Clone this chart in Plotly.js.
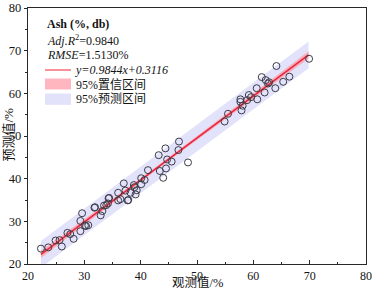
<!DOCTYPE html>
<html><head><meta charset="utf-8">
<script src="https://cdn.plot.ly/plotly-3.0.1.min.js"></script>
<style>html,body{margin:0;padding:0;background:#fff}#chart{width:373px;height:290px}</style>
</head><body><div id="chart"></div>
<script>
// Observed vs predicted ash (%, db)
const obsX = [22.3,23.6,24.9,25.6,26.0,27.0,27.5,28.1,29.3,29.3,29.6,30.1,30.3,30.7,31.8,31.9,32.9,33.2,33.5,33.9,34.2,34.3,34.4,36.0,36.0,36.4,37.0,37.3,37.7,37.8,38.2,38.8,39.1,39.3,38.9,40.1,40.1,40.7,41.3,43.2,43.4,44.0,44.4,44.5,44.7,45.5,46.7,46.8,48.4,54.9,55.5,57.7,57.7,57.9,58.1,58.9,59.2,59.6,60.6,60.7,61.5,62.0,62.2,62.6,62.8,63.9,64.1,65.3,66.4,69.9];
const predY = [23.6,23.9,25.5,25.6,24.1,27.3,27.0,25.9,27.7,30.1,31.9,29.0,28.9,29.1,33.2,33.3,31.4,32.4,33.7,33.8,34.2,35.4,35.5,34.9,36.7,35.2,38.9,37.2,34.9,35.0,36.7,38.5,36.3,37.3,38.0,40.1,38.7,39.7,42.0,45.5,41.8,40.2,47.1,42.4,44.5,44.0,46.7,48.7,43.8,53.4,55.2,58.6,58.0,56.0,57.1,58.4,59.6,59.1,61.2,58.6,63.8,60.2,63.1,62.3,62.6,61.2,66.4,62.7,63.9,68.1];
// fitted line and bands
const bandX  = [22.3, 28, 34, 40, 46, 52, 58, 64, 69.8];
const fitY   = [22.26, 27.88, 33.78, 39.69, 45.59, 51.50, 57.41, 63.31, 69.02];
const ciLow  = [21.41, 27.23, 33.28, 39.27, 45.19, 51.05, 56.86, 62.61, 68.17];
const ciHigh = [23.11, 28.53, 34.28, 40.11, 45.99, 51.95, 57.96, 64.01, 69.87];
const piLow  = [19.14, 24.79, 30.71, 36.63, 42.53, 48.44, 54.34, 60.22, 65.90];
const piHigh = [25.38, 30.97, 36.85, 42.75, 48.65, 54.56, 60.48, 66.40, 72.14];
const tickVals = [20,30,40,50,60,70,80];
const tickText = ['20','30','40','50','60','70','80'];

const FONT = 'Liberation Serif, Noto Sans CJK SC, serif';
const TXT = 'rgb(20,20,20)';
const PI_COL = 'rgb(226,226,251)';
const CI_COL = 'rgb(248,172,184)';
const LINE_COL = 'rgb(232,35,62)';

const rev = a => a.slice().reverse();
const traces = [
  {x: bandX.concat(rev(bandX)), y: piHigh.concat(rev(piLow)), type:'scatter', mode:'lines',
   fill:'toself', fillcolor:PI_COL, line:{width:0}, hoverinfo:'skip'},
  {x: bandX.concat(rev(bandX)), y: ciHigh.concat(rev(ciLow)), type:'scatter', mode:'lines',
   fill:'toself', fillcolor:CI_COL, line:{width:0}, hoverinfo:'skip'},
  {x: bandX, y: fitY, type:'scatter', mode:'lines', line:{color:LINE_COL, width:1.5}},
  {x: obsX, y: predY, type:'scatter', mode:'markers',
   marker:{symbol:'circle-open', size:7, color:'rgb(60,60,72)', line:{width:1}}}
];

const W = 338, H = 256, L = 28, T = 8;
const px = v => (v - L) / W;
const py = v => (T + H - v) / H;

function ann(text, x, y, opts) {
  return Object.assign({text, x: px(x), y: py(y), xref:'paper', yref:'paper',
    xanchor:'left', yanchor:'middle', showarrow:false,
    font:{family:FONT, size:12, color:TXT}}, opts || {});
}

const layout = {
  width:373, height:290,
  margin:{l:L, r:373-L-W, t:T, b:290-T-H, pad:0},
  paper_bgcolor:'#fff', plot_bgcolor:'#fff',
  showlegend:false,
  font:{family:FONT, size:12, color:TXT},
  xaxis:{range:[20,80], tickvals:tickVals, ticktext:tickText, ticks:'inside', ticklen:4,
    tickcolor:'rgb(40,40,40)', showgrid:false, zeroline:false, showline:true, mirror:true,
    linecolor:'rgb(40,40,40)', linewidth:1.2,
    minor:{dtick:5, tick0:20, ticks:'inside', ticklen:2.5, tickcolor:'rgb(40,40,40)', showgrid:false},
    tickfont:{family:FONT, size:12, color:TXT}},
  yaxis:{range:[20,80], tickvals:tickVals, ticktext:tickText, ticks:'outside', ticklen:3,
    tickcolor:'rgb(40,40,40)', showgrid:false, zeroline:false, showline:true, mirror:true,
    linecolor:'rgb(40,40,40)', linewidth:1.2,
    minor:{dtick:5, tick0:20, ticks:'outside', ticklen:2, tickcolor:'rgb(40,40,40)', showgrid:false},
    tickfont:{family:FONT, size:12.5, color:TXT}},
  shapes:[
    {type:'line', xref:'paper', yref:'paper', x0:px(45), x1:px(71), y0:py(70), y1:py(70),
     line:{color:'rgb(245,110,120)', width:1.5}},
    {type:'rect', xref:'paper', yref:'paper', x0:px(45), x1:px(71), y0:py(89.5), y1:py(78.5),
     fillcolor:'rgb(255,182,190)', line:{width:0}},
    {type:'rect', xref:'paper', yref:'paper', x0:px(45), x1:px(71), y0:py(104.8), y1:py(93.5),
     fillcolor:PI_COL, line:{width:0}}
  ],
  annotations:[
    ann('<b>Ash (%, db)</b>', 44.5, 24.3),
    ann('<i>Adj.R</i><sup>2</sup>=0.9840', 44.5, 40.3),
    ann('<i>RMSE</i>=1.5130%', 44.5, 54.8),
    ann('<i>y=0.9844x+0.3116</i>', 73, 70),
    ann('95%置信区间', 74, 85.2),
    ann('95%预测区间', 74, 99),
    {text:'观测值/%', x:0.5, y:py(282.5), xref:'paper', yref:'paper', xanchor:'center', yanchor:'middle',
     borderpad:0, showarrow:false, font:{family:FONT, size:12.5, color:TXT}},
    {text:'预测值/%', x:px(7.5), y:py(135), xref:'paper', yref:'paper', xanchor:'center', yanchor:'middle',
     textangle:-90, showarrow:false, font:{family:FONT, size:13, color:TXT}}
  ]
};

Plotly.newPlot('chart', traces, layout, {displayModeBar:false, staticPlot:true});
</script></body></html>
